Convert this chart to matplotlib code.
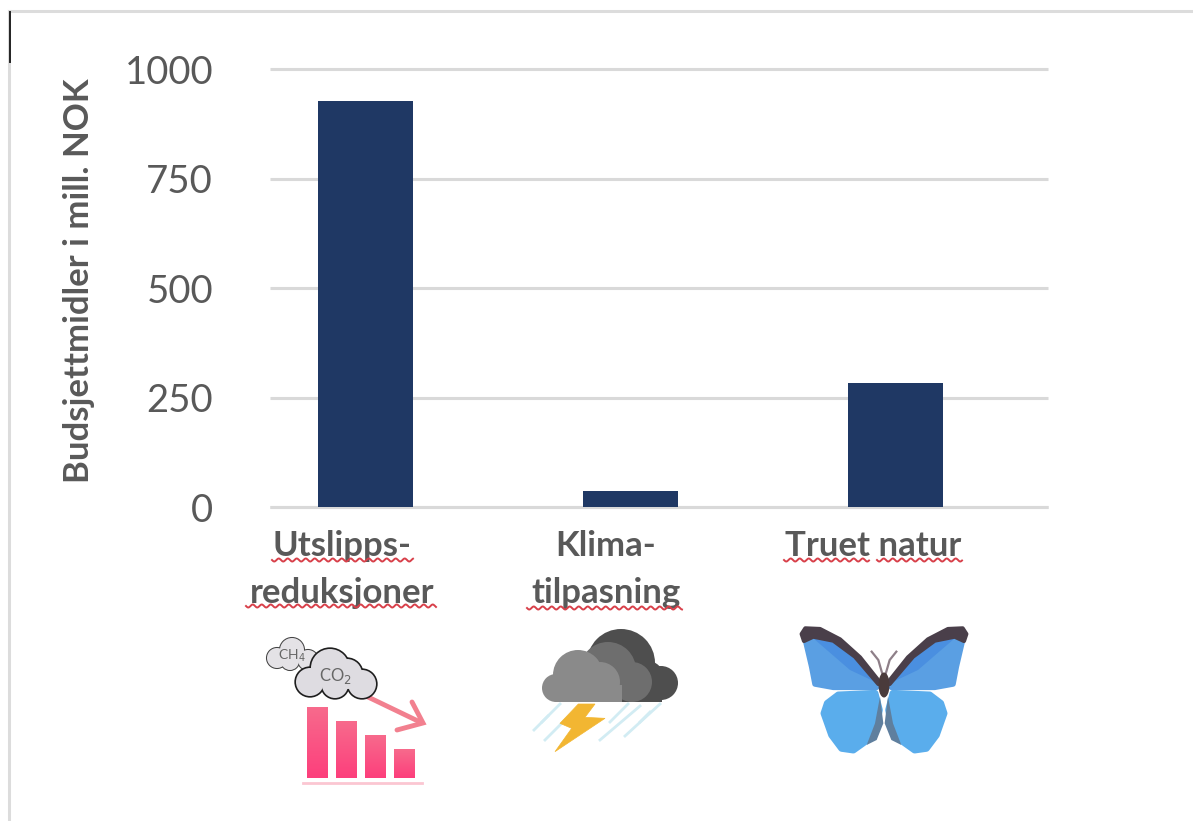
import numpy as np
import matplotlib
matplotlib.use("Agg")
import matplotlib.pyplot as plt
from matplotlib.patches import Polygon, Circle, Rectangle, Ellipse

categories = ["Utslipps-\nreduksjoner", "Klima-\ntilpasning", "Truet natur"]
values = [927, 37, 283]
yticks = [0, 250, 500, 750, 1000]
ylabel = "Budsjettmidler i mill. NOK"

W, H = 1193, 821
plt.rcParams["font.family"] = ["Lato", "DejaVu Sans"]
fig = plt.figure(figsize=(W / 100, H / 100), dpi=100, facecolor="white")

# main chart
L, R, T, B = 270, 1048, 69, 507
ax = fig.add_axes([L / W, 1 - B / H, (R - L) / W, (B - T) / H])
ax.set_xlim(-0.36, 2.575)
ax.set_ylim(0, 1000)
ax.bar(range(3), values, width=0.36, color="#1F3864", zorder=3)
ax.set_yticks(yticks)
ax.set_xticks([])
ax.tick_params(axis="y", length=0, pad=41, labelsize=27.5, labelcolor="#595959")
ax.grid(axis="y", color="#D9D9D9", lw=2.2, zorder=0, solid_capstyle="butt")
ax.set_axisbelow(True)
for s in ["top", "left", "right"]:
    ax.spines[s].set_visible(False)
ax.spines["bottom"].set_color("#D9D9D9")
ax.spines["bottom"].set_linewidth(2.2)
ax.spines["bottom"].set_capstyle("butt")
for gl in ax.get_ygridlines():
    gl.set_clip_on(False)

# overlay in pixel coordinates for frame, pasted labels and icons
ov = fig.add_axes([0, 0, 1, 1], zorder=5)
ov.set_xlim(0, W)
ov.set_ylim(H, 0)
ov.axis("off")
ov.patch.set_alpha(0)

ov.plot([9, W], [11, 11], color="#DCDCDC", lw=2.2)
ov.plot([9, 9], [11, H], color="#DCDCDC", lw=2.2)
ov.plot([10, 10], [12, 62], color="#222222", lw=1.4)

ov.text(79, 281, ylabel, rotation=90, ha="center", va="center",
        fontsize=25, fontweight="bold", color="#595959")

label_centres = [342, 606, 873]
line_base = [556, 603]
for c, cat in zip(label_centres, categories):
    for b, line in zip(line_base, cat.split("\n")):
        ov.text(c, b, line, ha="center", va="baseline", fontsize=25,
                fontweight="bold", color="#595959")


def wavy(x0, x1, y):
    x = np.linspace(x0, x1, int((x1 - x0) * 2))
    ov.plot(x, y + 1.5 * np.sin((x - x0) * 2 * np.pi / 9), color="#D8404A", lw=1.4, zorder=4)


for x0, x1, y in [(272, 413, 560), (246, 436, 606), (527, 682, 608),
                  (784, 869, 560), (877, 962, 560)]:
    wavy(x0, x1, y)


# icon 1
def z1(p):
    return [(230 + a / 3, 510 + b / 3) for a, b in p]


def cloud(parts, face, edge, lw, z):
    for (cx, cy, r) in parts:
        ov.add_patch(Circle((cx, cy), r, fc=edge, ec=edge, lw=lw, zorder=z))
    for (cx, cy, r) in parts:
        ov.add_patch(Circle((cx, cy), r, fc=face, ec="none", zorder=z + 0.1))


cloud([(277, 658, 10), (292, 650, 12), (308, 660, 10), (290, 661, 9)],
      "#E4E2E6", "#444444", 1.5, 6)
cloud([(310, 682, 14), (330, 668, 19), (347, 674, 15), (362, 684, 14), (335, 685, 13)],
      "#DEDCE1", "#1E1E1E", 2.4, 7)
ov.text(292, 656, "CH$_4$", fontsize=10, color="#666666", ha="center", va="center", zorder=9,
        math_fontfamily="dejavusans")
ov.text(335, 676, "CO$_2$", fontsize=12, color="#666666", ha="center", va="center", zorder=9,
        math_fontfamily="dejavusans")
ov.plot([368, 420], [697, 722], color="#F2808F", lw=3.5, zorder=6, solid_capstyle="round")
ov.plot([412, 423, 397], [702, 723, 730], color="#F2808F", lw=3.5, zorder=6,
        solid_capstyle="round", solid_joinstyle="miter")
grad = np.linspace(0, 1, 64)[:, None]
cmap = matplotlib.colors.LinearSegmentedColormap.from_list("p", ["#F76A8C", "#FD3F7C"])
for x0, top in [(307, 707), (336, 721), (365, 735), (394, 749)]:
    ov.imshow(grad, extent=(x0, x0 + 21, 778, top), cmap=cmap, aspect="auto", zorder=6)
ov.set_xlim(0, W)
ov.set_ylim(H, 0)
ov.plot([303, 422], [783, 783], color="#FBC6D2", lw=2, zorder=6)

# icon 2: storm cloud
for cx, cy, r in [(621, 663, 34), (661, 683, 17), (645, 680, 20), (596, 680, 20)]:
    ov.add_patch(Circle((cx, cy), r, fc="#4E4E4E", ec="none", zorder=6))
ov.add_patch(Rectangle((596, 672), 66, 30, fc="#4E4E4E", ec="none", zorder=6))
for cx, cy, r in [(608, 670, 28), (632, 682, 20)]:
    ov.add_patch(Circle((cx, cy), r, fc="#6E6E6E", ec="none", zorder=6.1))
for cx, cy, r in [(578, 675, 25), (600, 682, 20), (556, 688, 14)]:
    ov.add_patch(Circle((cx, cy), r, fc="#8A8A8A", ec="none", zorder=6.2))
ov.add_patch(Rectangle((556, 685), 66, 17, fc="#8A8A8A", ec="none", zorder=6.2))
ov.add_patch(Rectangle((530, 702), 150, 22, fc="white", ec="none", zorder=6.25))
for a, b, c, d in [(534, 730, 560, 704), (545, 740, 565, 720), (542, 722, 548, 716),
                   (610, 722, 628, 704), (600, 740, 640, 706), (625, 736, 660, 704),
                   (640, 722, 650, 712)]:
    ov.plot([a, c], [b, d], color="#D2ECF3", lw=2, zorder=6.3)
ov.add_patch(Polygon(z1([(1045, 582), (1095, 582), (1065, 622), (1125, 625), (975, 725),
                         (1025, 655), (990, 640)]), fc="#F2B632", ec="#F2B632", lw=0.5, zorder=6.5))


# icon 3: butterfly
def z2(p, mirror=False):
    return [(700 + (1104 - a if mirror else a) / 3, 510 + b / 3) for a, b in p]


for m in (False, True):
    ov.add_patch(Polygon(z2([(415, 555), (525, 550), (538, 600), (525, 665), (495, 695),
                             (460, 720), (425, 715), (395, 675), (372, 610), (382, 580)], m),
                         fc="#5AADEC", ec="#5AADEC", lw=5, joinstyle="round", zorder=6))
    ov.add_patch(Polygon(z2([(540, 560), (550, 640), (530, 690), (500, 705), (525, 640)], m),
                         fc="#5F7F9E", ec="none", zorder=6.1))
    ov.add_patch(Polygon(z2([(315, 385), (400, 385), (470, 440), (530, 525), (530, 532),
                             (400, 532), (345, 522), (335, 470)], m),
                         fc="#5A9FE3", ec="#5A9FE3", lw=4, joinstyle="round", zorder=6.2))
    ov.add_patch(Polygon(z2([(340, 385), (400, 385), (470, 440), (535, 520), (450, 480)], m),
                         fc="#4A8FE0", ec="none", zorder=6.25))
    ov.add_patch(Polygon(z2([(305, 372), (316, 355), (360, 357), (420, 388), (480, 442),
                             (538, 515), (535, 522), (465, 440), (400, 392), (340, 380), (312, 393)], m),
                         fc="#4A3F4A", ec="#4A3F4A", lw=3, joinstyle="round", zorder=6.3))
    ov.plot(*zip(*z2([(515, 425), (535, 450), (548, 495)], m)), color="#8E7F88", lw=1.6, zorder=6.3)
ov.add_patch(Ellipse((884, 685), 11, 25, fc="#4A3B3B", ec="none", zorder=6.5))

fig.savefig("out.png", dpi=100)
